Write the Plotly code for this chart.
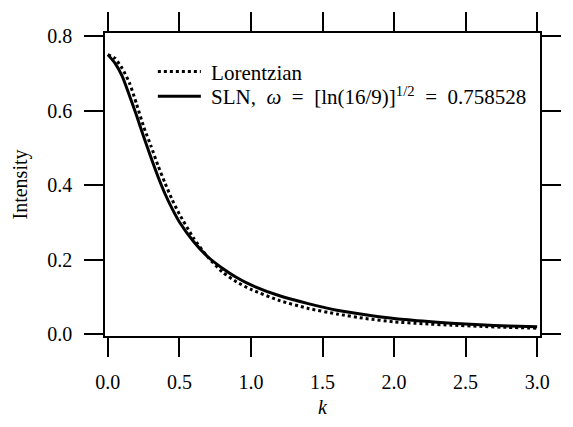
import plotly.graph_objects as go

k = [0, 0.05, 0.1, 0.15, 0.2, 0.25, 0.3, 0.35, 0.4, 0.45, 0.5, 0.6, 0.7, 0.8,
     0.9, 1.0, 1.2, 1.4, 1.6, 1.8, 2.0, 2.2, 2.4, 2.6, 2.8, 3.0]
sln = [0.750, 0.727, 0.692, 0.641, 0.587, 0.530, 0.475, 0.423, 0.376, 0.336,
       0.301, 0.248, 0.207, 0.177, 0.152, 0.132, 0.103, 0.082, 0.064, 0.052,
       0.042, 0.035, 0.029, 0.025, 0.022, 0.020]
lorentzian = [0.750, 0.740, 0.713, 0.675, 0.618, 0.557, 0.506, 0.453, 0.405,
              0.360, 0.322, 0.257, 0.206, 0.167, 0.140, 0.120, 0.090, 0.069,
              0.054, 0.042, 0.033, 0.028, 0.024, 0.021, 0.018, 0.016]
x_ticks = [0.0, 0.5, 1.0, 1.5, 2.0, 2.5, 3.0]
y_ticks = [0.0, 0.2, 0.4, 0.6, 0.8]

FONT = "Liberation Serif"
SP = "\u2002"

fig = go.Figure()
fig.add_trace(go.Scatter(x=k, y=lorentzian, mode="lines", name="\u00a0Lorentzian",
                         legend="legend",
                         line=dict(color="black", width=3, dash="dot", shape="spline",
                                   smoothing=0.6)))
fig.add_trace(go.Scatter(x=k, y=sln, mode="lines", legend="legend2",
                         name=f"\u00a0SLN,{SP}<i>ω</i>{SP}={SP}[ln(16/9)]<sup>1/2</sup>{SP}={SP}0.758528",
                         line=dict(color="black", width=3, shape="spline", smoothing=0.6)))

axis_common = dict(showgrid=False, zeroline=False, showline=True, linecolor="black",
                   linewidth=1.5, mirror="allticks", ticks="outside", ticklen=19,
                   tickwidth=1.5, tickcolor="black", ticklabelstandoff=8,
                   tickfont=dict(family=FONT, size=20, color="black"))

fig.update_xaxes(range=[-0.02, 3.02], tickvals=x_ticks,
                 ticktext=[f"{v:.1f}" for v in x_ticks],
                 title=dict(text="<i>k</i>", font=dict(family=FONT, size=20, color="black"),
                            standoff=8),
                 **axis_common)
fig.update_yaxes(range=[-0.005, 0.808], tickvals=y_ticks,
                 ticktext=[f"{v:.1f}" for v in y_ticks],
                 title=dict(text="Intensity", font=dict(family=FONT, size=20, color="black"),
                            standoff=14),
                 **axis_common)

leg_common = dict(font=dict(family=FONT, size=21, color="black"),
                  bgcolor="rgba(0,0,0,0)", borderwidth=0, xanchor="left",
                  yanchor="middle", itemwidth=43, visible=True)
fig.update_layout(
    width=573, height=427,
    margin=dict(l=105, r=13, t=29, b=91),
    paper_bgcolor="white", plot_bgcolor="white",
    font=dict(family=FONT, size=20, color="black"),
    showlegend=True,
    legend=dict(x=0.11, y=0.872, **leg_common),
    legend2=dict(x=0.11, y=0.79, **leg_common),
)

fig.write_html("out.html")
